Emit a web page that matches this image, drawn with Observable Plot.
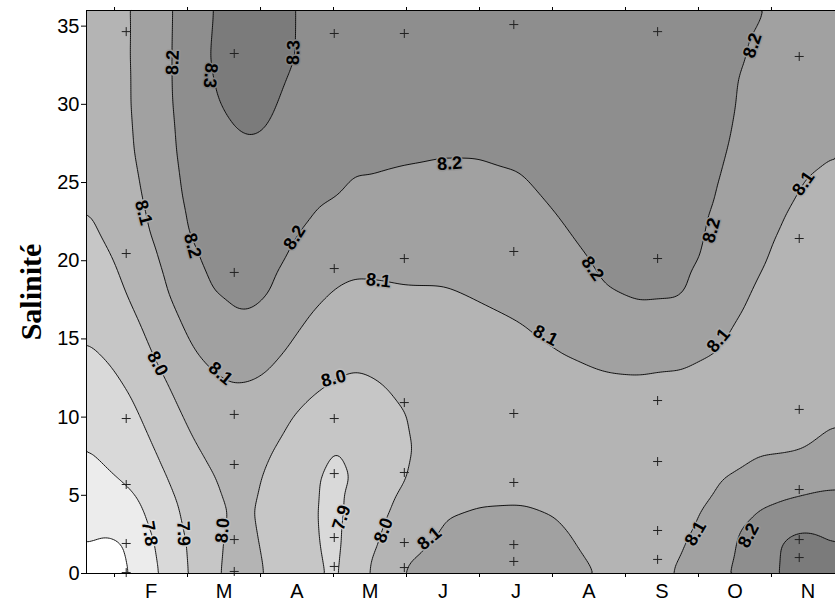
<!DOCTYPE html>
<html><head><meta charset="utf-8">
<script src="https://cdn.jsdelivr.net/npm/d3@7"></script>
<script src="https://cdn.jsdelivr.net/npm/@observablehq/plot@0.6"></script>
<style>body{margin:0;background:#fff}</style>
</head><body><div id="chart"></div>
<script>
// Month tick positions (1 = start of February) and labels
const monthTicks = [1,2,3,4,5,6,7,8,9,10];
const monthLabels = ["F","M","A","M","J","J","A","S","O","N"];
const salinityTicks = [0,5,10,15,20,25,30,35];
const thresholds = [7.7,7.8,7.9,8.0,8.1,8.2,8.3];

// Grid of pH values: one array per month position, salinity rows bottom to top
const gridMonths = [0.616,0.95,1.22,1.49,1.77,2.04,2.32,2.59,2.86,3.14,3.41,3.75,4.03,4.30,4.64,4.99,5.47,6.01,6.56,7.11,7.66,8.21,8.75,9.30,9.85,10.40,10.877];
const gridSalinity = [0,2,4,6,8,10,12,14,16,18,20,22,24,27,30,33,36];
const gridPH = [
 [7.67,7.701,7.734,7.767,7.799,7.829,7.859,7.889,7.914,7.937,7.961,7.984,8.007,8.03,8.05,8.065,8.075],
 [7.67,7.69,7.74,7.792,7.824,7.852,7.881,7.909,7.938,7.966,7.995,8.02,8.035,8.05,8.06,8.07,8.08],
 [7.698,7.706,7.766,7.813,7.844,7.876,7.909,7.945,7.98,8.012,8.03,8.05,8.07,8.09,8.097,8.097,8.095],
 [7.77,7.79,7.817,7.854,7.891,7.925,7.96,7.995,8.023,8.05,8.077,8.104,8.12,8.14,8.15,8.15,8.15],
 [7.84,7.85,7.88,7.908,7.94,7.971,8.004,8.039,8.074,8.109,8.13,8.15,8.17,8.185,8.192,8.193,8.19],
 [7.907,7.914,7.925,7.944,7.985,8.017,8.054,8.09,8.121,8.15,8.179,8.208,8.22,8.235,8.25,8.26,8.26],
 [7.971,7.969,7.964,7.99,8.021,8.051,8.082,8.117,8.158,8.199,8.22,8.24,8.255,8.27,8.29,8.303,8.295],
 [8.03,8.02,8.01,8.025,8.05,8.07,8.097,8.136,8.188,8.212,8.23,8.25,8.265,8.285,8.31,8.33,8.33],
 [8.025,8.015,8.008,8.02,8.04,8.065,8.095,8.136,8.19,8.215,8.229,8.247,8.265,8.292,8.32,8.34,8.34],
 [7.988,7.98,7.972,7.982,8.005,8.043,8.079,8.117,8.16,8.203,8.222,8.24,8.26,8.285,8.31,8.33,8.33],
 [7.95,7.946,7.94,7.95,7.975,8.003,8.047,8.086,8.122,8.155,8.19,8.21,8.225,8.25,8.28,8.305,8.305],
 [7.913,7.905,7.902,7.903,7.93,7.965,8.011,8.047,8.083,8.118,8.153,8.188,8.21,8.24,8.26,8.275,8.28],
 [7.885,7.88,7.88,7.885,7.895,7.946,7.992,8.027,8.061,8.095,8.13,8.165,8.201,8.22,8.235,8.25,8.255],
 [7.946,7.938,7.924,7.904,7.92,7.945,7.983,8.018,8.051,8.084,8.119,8.153,8.188,8.21,8.225,8.24,8.245],
 [8.041,8.003,7.975,7.95,7.94,7.955,7.996,8.027,8.057,8.088,8.119,8.15,8.18,8.215,8.225,8.235,8.24],
 [8.11,8.082,8.039,7.999,7.985,7.998,8.022,8.046,8.07,8.094,8.121,8.148,8.175,8.21,8.225,8.23,8.235],
 [8.125,8.11,8.093,8.07,8.06,8.055,8.06,8.07,8.085,8.094,8.122,8.147,8.172,8.205,8.22,8.225,8.23],
 [8.14,8.125,8.103,8.08,8.065,8.06,8.065,8.075,8.088,8.106,8.13,8.153,8.176,8.205,8.22,8.225,8.23],
 [8.14,8.125,8.105,8.08,8.065,8.06,8.065,8.08,8.099,8.121,8.144,8.165,8.187,8.21,8.225,8.23,8.23],
 [8.12,8.108,8.095,8.075,8.065,8.065,8.075,8.098,8.121,8.145,8.17,8.195,8.21,8.225,8.235,8.24,8.24],
 [8.097,8.085,8.075,8.07,8.07,8.075,8.088,8.113,8.15,8.194,8.21,8.225,8.235,8.245,8.25,8.25,8.25],
 [8.075,8.075,8.075,8.075,8.075,8.08,8.09,8.12,8.172,8.212,8.232,8.24,8.245,8.25,8.25,8.25,8.25],
 [8.105,8.09,8.08,8.075,8.075,8.08,8.09,8.111,8.16,8.21,8.225,8.235,8.24,8.245,8.245,8.245,8.245],
 [8.178,8.155,8.12,8.095,8.085,8.085,8.09,8.097,8.114,8.133,8.17,8.18,8.194,8.21,8.22,8.225,8.23],
 [8.275,8.27,8.203,8.133,8.09,8.07,8.065,8.068,8.075,8.09,8.106,8.118,8.13,8.15,8.168,8.186,8.204],
 [8.33,8.33,8.24,8.157,8.095,8.07,8.055,8.05,8.05,8.055,8.065,8.08,8.095,8.11,8.13,8.15,8.165],
 [8.34,8.301,8.238,8.182,8.132,8.09,8.06,8.045,8.04,8.04,8.05,8.065,8.08,8.102,8.12,8.135,8.145]
];

// Sampling stations (+ markers)
const sampleMonths = [1.16,2.64,4.01,4.97,6.47,8.44,10.38];
const sampleSalinity = [
 [34.65,20.46,9.91,5.69,1.92,0.06],
 [33.25,19.25,10.17,6.97,2.17,0.13],
 [34.53,19.5,9.91,6.39,2.3,0.45],
 [34.53,20.14,10.93,6.46,1.98,0.38],
 [35.1,20.59,10.23,5.82,1.85,0.77],
 [34.65,20.14,11.06,7.16,2.75,0.9],
 [33.06,21.42,10.49,5.37,2.17,1.02]
];

// Contour labels
const labelText  = ["8.2","8.3","8.3","8.1","8.2","8.0","8.1","8.2","8.2","8.1","8.2","8.2","8.2","8.1","8.1","8.1","8.0","7.8","7.9","8.0","7.9","8.0","8.1","8.1","8.2"];
const labelMonth = [1.795,2.315,3.452,1.397,2.068,1.589,2.452,3.466,5.589,4.616,7.548,9.178,9.740,10.438,6.904,9.274,4.0,1.479,1.945,2.479,4.11,4.685,5.315,8.959,9.685];
const labelSal   = [32.67,31.84,33.31,23.08,20.97,13.43,12.79,21.48,26.21,18.73,19.5,21.93,33.76,24.94,15.22,14.9,12.47,2.56,2.56,2.75,3.58,2.75,2.24,2.56,2.43];
const labelAngle = [-88,95,-88,75,75,62,40,-58,-4,6,55,-75,-72,-55,28,-50,-15,80,88,-85,-72,-70,-40,-60,-62];

const grid = [];
gridMonths.forEach((m, i) => gridSalinity.forEach((s, j) => grid.push({m, s, v: gridPH[i][j]})));
const samples = [];
sampleMonths.forEach((m, i) => sampleSalinity[i].forEach(s => samples.push({m, s})));
const labels = labelText.map((t, i) => ({t, m: labelMonth[i], s: labelSal[i], a: labelAngle[i]}));

const sans = "'Liberation Sans', Arial, sans-serif";
const chart = Plot.plot({
  width: 835, height: 604,
  marginTop: 10, marginBottom: 31, marginLeft: 86, marginRight: 0,
  style: {fontFamily: sans, fontSize: "20px", color: "black", background: "white"},
  x: {domain: [0.616, 10.877], label: null},
  y: {domain: [0, 36], label: null},
  color: {type: "linear", domain: [7.7, 8.3], range: ["#ececec", "#7b7b7b"]},
  marks: [
    Plot.contour(grid, {x: "m", y: "s", value: "v", fill: "value", thresholds, interpolate: "barycentric", blur: 3, stroke: "black", strokeWidth: 0.9}),
    Plot.dot(samples, {x: "m", y: "s", symbol: "plus", r: 3, stroke: "#222", strokeWidth: 1}),
    Plot.text(labels, {x: "m", y: "s", text: "t", rotate: "a", fontFamily: sans, fontWeight: "bold", fontSize: 18, fill: "black",
      stroke: d => +d.t - 0.05, strokeWidth: 3, paintOrder: "stroke"}),
    Plot.frame({stroke: "black", strokeWidth: 1}),
    Plot.axisX({ticks: monthTicks, tickFormat: () => "", tickSize: 4, label: null}),
    Plot.axisX({anchor: "top", ticks: monthTicks, tickFormat: () => "", tickSize: 4, label: null}),
    Plot.axisX({ticks: monthTicks.map(t => t + 0.5), tickFormat: (d, i) => monthLabels[i], tickSize: 0, tickPadding: 10,
      fontSize: 20, fontFamily: sans, label: null}),
    Plot.axisY({ticks: salinityTicks, tickSize: 5, tickPadding: 2, fontSize: 20, fontFamily: sans, label: null}),
    Plot.text(["Salinité"], {text: d => d, frameAnchor: "left", textAnchor: "middle", dx: -55, rotate: -90,
      fontFamily: "'Liberation Serif', 'Times New Roman', serif", fontWeight: "bold", fontSize: 30})
  ]
});
document.getElementById("chart").appendChild(chart);
</script>
</body></html>
